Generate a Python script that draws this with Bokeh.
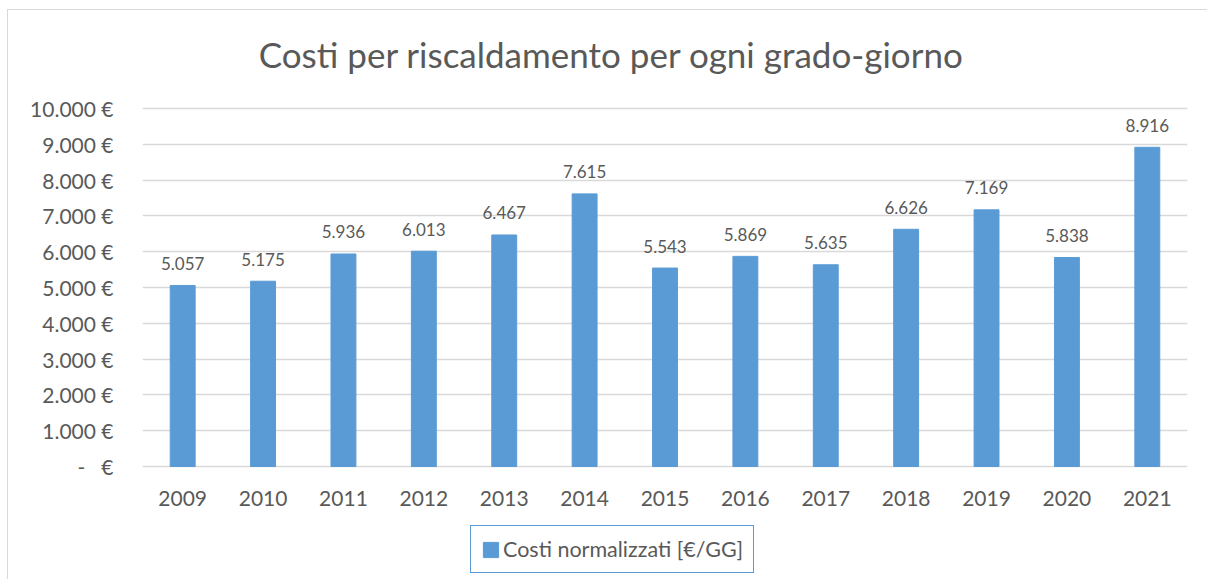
from bokeh.plotting import figure
from bokeh.models import ColumnDataSource, FixedTicker, Label
from bokeh.core.properties import value
from bokeh.embed import file_html
from bokeh.resources import INLINE

years = ["2009", "2010", "2011", "2012", "2013", "2014", "2015",
         "2016", "2017", "2018", "2019", "2020", "2021"]
costs = [5057, 5175, 5936, 6013, 6467, 7615, 5543, 5869, 5635, 6626, 7169, 5838, 8916]
y_ticks = [0, 1000, 2000, 3000, 4000, 5000, 6000, 7000, 8000, 9000, 10000]
y_tick_labels = ["-\u00a0\u00a0\u00a0€", "1.000 €", "2.000 €", "3.000 €", "4.000 €",
                 "5.000 €", "6.000 €", "7.000 €", "8.000 €", "9.000 €", "10.000 €"]
title_text = "Costi per riscaldamento per ogni grado-giorno"
series_name = "Costi normalizzati [€/GG]"

FONT = "Lato"
TXT = "#595959"
BAR = "#5B9BD5"
GRID = "#D9D9D9"

labels = ["{:,}".format(v).replace(",", ".") for v in costs]
src = ColumnDataSource(dict(year=years, cost=costs, label=labels))

# frame spans the full canvas height; value 0 sits at 456px from top, 10000 at 98px
p = figure(width=1200, height=570, x_range=years, y_range=(-3184, 12737),
           output_backend="svg", toolbar_location=None,
           min_border_left=134, min_border_right=21,
           min_border_top=0, min_border_bottom=0)
p.styles = {"margin-left": "7px", "margin-top": "9px",
            "border-left": "1px solid #D9D9D9", "border-top": "1px solid #D9D9D9"}
p.outline_line_color = None
p.background_fill_color = "white"
p.border_fill_color = "white"

p.vbar(x="year", top="cost", bottom=0, width=0.31, source=src, color=BAR,
       legend_label=series_name)
p.text(x="year", y="cost", text="label", source=src, y_offset=-22,
       text_align="center", text_baseline="alphabetic",
       text_font=value(FONT), text_font_size="17px", text_color=TXT)

# axes
p.xaxis.fixed_location = 0
p.yaxis.ticker = FixedTicker(ticks=y_ticks)
p.yaxis.major_label_overrides = {t: l for t, l in zip(y_ticks, y_tick_labels)}
for ax in (p.xaxis[0], p.yaxis[0]):
    ax.axis_line_color = None
    ax.major_tick_line_color = None
    ax.minor_tick_line_color = None
    ax.major_label_text_font = FONT
    ax.major_label_text_color = TXT
p.xaxis.major_label_text_font_size = "21px"
p.yaxis.major_label_text_font_size = "21px"
p.yaxis.major_label_standoff = 23
p.xaxis.major_label_standoff = 18

p.xgrid.grid_line_color = None
p.ygrid.grid_line_color = GRID
p.ygrid.grid_line_width = 1.3

# title (centred on the chart area, not on the plot frame)
p.add_layout(Label(x=469, y=527, x_units="screen", y_units="screen",
                   text=title_text, text_align="center", text_baseline="middle",
                   text_font=FONT, text_font_size="35px", text_color=TXT))

# legend
lg = p.legend[0]
lg.location = (328, 7)
lg.orientation = "horizontal"
lg.border_line_color = BAR
lg.border_line_width = 1.5
lg.border_line_alpha = 1.0
lg.background_fill_color = "white"
lg.background_fill_alpha = 1.0
lg.padding = 10
lg.margin = 0
lg.glyph_width = 19
lg.glyph_height = 19
lg.label_standoff = 3
lg.label_text_font = FONT
lg.label_text_font_size = "21.5px"
lg.label_text_color = TXT

open("out.html", "w").write(file_html(p, INLINE))
